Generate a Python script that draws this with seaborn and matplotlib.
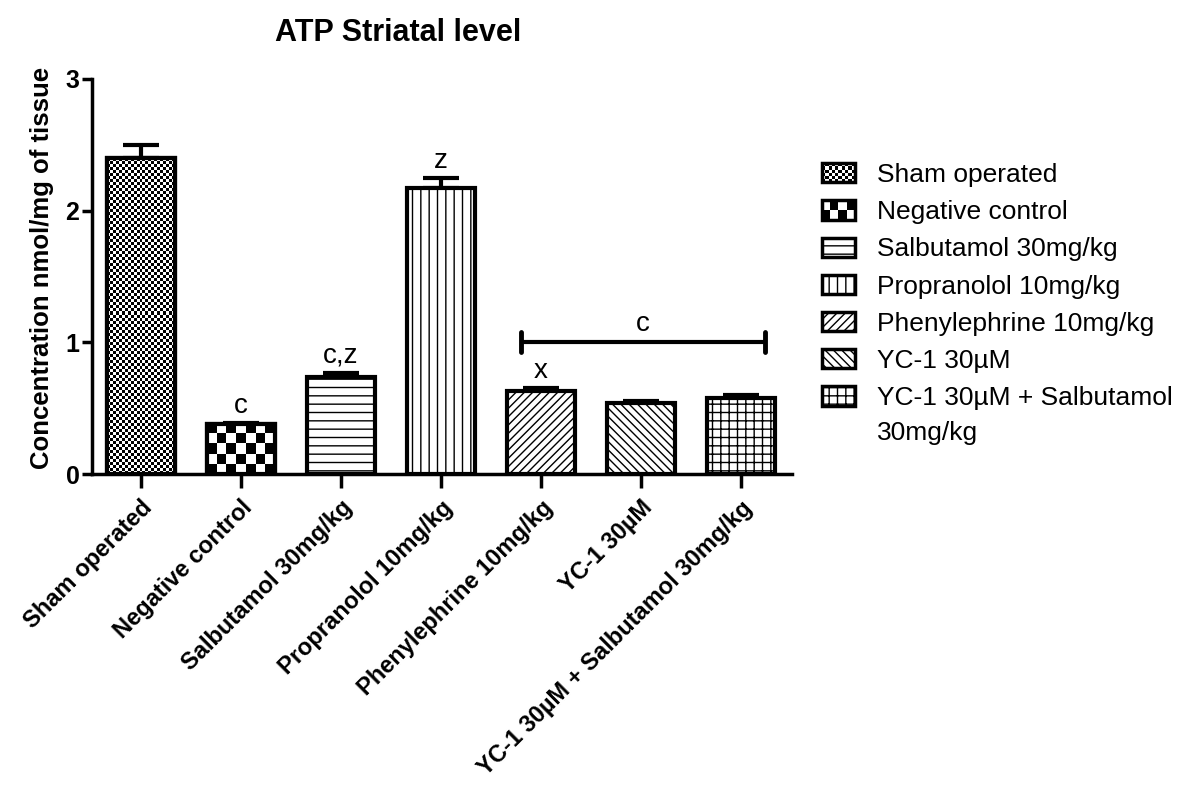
import numpy as np
import pandas as pd
import matplotlib
matplotlib.use("Agg")
import matplotlib.pyplot as plt
import seaborn as sns
from matplotlib.patches import Patch, Rectangle
from matplotlib.legend_handler import HandlerBase

# ---------------- data ----------------
groups = ["Sham operated", "Negative control", "Salbutamol 30mg/kg",
          "Propranolol 10mg/kg", "Phenylephrine 10mg/kg", "YC-1 30µM",
          "YC-1 30µM + Salbutamol 30mg/kg"]
legend_labels = ["Sham operated", "Negative control", "Salbutamol 30mg/kg",
                 "Propranolol 10mg/kg", "Phenylephrine 10mg/kg", "YC-1 30µM",
                 "YC-1 30µM + Salbutamol"]
legend_extra_line = "30mg/kg"
means = [2.40, 0.38, 0.74, 2.17, 0.63, 0.54, 0.58]
sems = [0.10, 0.01, 0.03, 0.08, 0.025, 0.015, 0.02]
letters = ["", "c", "c,z", "z", "x", "", ""]
bracket_groups = [4, 6]
bracket_label = "c"
bracket_y = 1.0
y_ticks = [0, 1, 2, 3]

# fill styles (None -> checkerboard with given cell size in px)
hatches = [None, None, "--", "||", "////", "\\\\\\\\", "++"]
checker_cells = {0: 3.0, 1: 10.0}

# ---------------- style ----------------
sns.set_style("white")
plt.rcParams["font.family"] = ["Liberation Sans", "DejaVu Sans"]
plt.rcParams["hatch.linewidth"] = 1.0
for k in ("text.color", "axes.labelcolor", "xtick.color", "ytick.color",
          "axes.edgecolor"):
    plt.rcParams[k] = "black"

fig = plt.figure(figsize=(11.77, 7.85), dpi=100)
ax = fig.add_axes([92 / 1177, 1 - 474 / 785, 700 / 1177, 395 / 785])

df = pd.DataFrame({"group": groups, "value": means})
sns.barplot(data=df, x="group", y="value", order=groups, color="white",
            saturation=1, edgecolor="black", linewidth=3, width=0.68,
            errorbar=None, ax=ax, zorder=2)

xlim = (-0.49, len(groups) - 0.49)
ylim = (0, 3)
ax.set_xlim(*xlim)
ax.set_ylim(*ylim)

bars = list(ax.patches)
for i, (p, h) in enumerate(zip(bars, hatches)):
    if h is not None:
        p.set_hatch(h)

# checkerboard fills
fig.canvas.draw()
for i, cell in checker_cells.items():
    p = bars[i]
    bb = p.get_window_extent()
    nx = max(1, int(round(bb.width / cell)))
    ny = max(1, int(round(bb.height / cell)))
    arr = (np.add.outer(np.arange(ny), np.arange(nx)) % 2).astype(float)
    x0 = p.get_x()
    w = p.get_width()
    hgt = p.get_height()
    im = ax.imshow(arr, extent=(x0, x0 + w, 0, hgt), cmap="gray", vmin=0, vmax=1,
                   interpolation="nearest", aspect="auto", zorder=2.2, origin="lower")
    im.set_clip_path(p)
    ax.add_patch(Rectangle((x0, 0), w, hgt, fill=False, edgecolor="black",
                           linewidth=3, zorder=2.5))
ax.set_xlim(*xlim)
ax.set_ylim(*ylim)

# error bars (upper only)
xpos = np.arange(len(groups))
ax.errorbar(xpos, means, yerr=[np.zeros(len(sems)), sems], fmt="none",
            ecolor="black", elinewidth=3, capsize=13, capthick=3, zorder=1.5)

# significance letters
for i, (m, s, lab) in enumerate(zip(means, sems, letters)):
    if lab:
        ax.text(i, m + s + 0.13, lab, ha="center", va="center", fontsize=20)

# bracket
bx0 = bracket_groups[0] - 0.2
bx1 = bracket_groups[1] + 0.24
ax.plot([bx0, bx1], [bracket_y, bracket_y], color="black", lw=3, zorder=3,
        solid_capstyle="butt")
for bx in (bx0, bx1):
    ax.plot([bx, bx], [bracket_y - 0.075, bracket_y + 0.075], color="black",
            lw=3.5, zorder=3, solid_capstyle="round")
ax.text((bx0 + bx1) / 2, bracket_y + 0.14, bracket_label, ha="center",
        va="center", fontsize=20)

# axes styling
sns.despine(ax=ax)
for sp in ("left", "bottom"):
    ax.spines[sp].set_linewidth(2.5)
    ax.spines[sp].set_color("black")
ax.set_yticks(y_ticks)
ax.set_yticklabels([str(t) for t in y_ticks], fontsize=18, fontweight="bold")
ax.tick_params(axis="y", length=7, width=2.5, pad=2, direction="out", left=True)
ax.tick_params(axis="x", length=10, width=2.5, pad=6, direction="out", bottom=True)
ax.set_xticks(xpos)
ax.set_xticklabels(groups, rotation=45, ha="right", va="top",
                   rotation_mode="anchor", fontsize=17, fontweight="bold")
ax.set_xlabel("")
ax.set_ylabel("")

fig.text(398 / 1177, 1 - 33 / 785, "ATP Striatal level", ha="center",
         va="center", fontsize=22, fontweight="bold")
fig.text(42 / 1177, 1 - 268 / 785, "Concentration nmol/mg of tissue",
         rotation=90, ha="center", va="center", fontsize=18.5, fontweight="bold")


# legend
class CheckerHandler(HandlerBase):
    def __init__(self, nx, ny):
        super().__init__()
        self.nx, self.ny = nx, ny

    def create_artists(self, legend, orig_handle, xdescent, ydescent, width,
                       height, fontsize, trans):
        arts = []
        cw, ch = width / self.nx, height / self.ny
        for a in range(self.nx):
            for b in range(self.ny):
                if (a + b) % 2 == 0:
                    arts.append(Rectangle((-xdescent + a * cw, -ydescent + b * ch),
                                          cw, ch, facecolor="black",
                                          edgecolor="none", transform=trans))
        arts.append(Rectangle((-xdescent, -ydescent), width, height,
                              facecolor="none", edgecolor="black", lw=2.5,
                              transform=trans))
        return arts


handles = []
handler_map = {}
for i, lab in enumerate(legend_labels):
    if hatches[i] is None:
        hd = Patch(facecolor="white", edgecolor="black", label=lab)
        n = 10 if i == 0 else 4
        handler_map[hd] = CheckerHandler(n, max(2, int(n * 0.6)))
    else:
        hd = Patch(facecolor="white", edgecolor="black", hatch=hatches[i],
                   lw=2.5, label=lab)
    handles.append(hd)

leg = fig.legend(handles=handles, labels=legend_labels, handler_map=handler_map,
                 loc="upper left", bbox_to_anchor=(822 / 1177, 1 - 163 / 785),
                 frameon=False, fontsize=19, handlelength=1.25,
                 handleheight=0.75, handletextpad=0.85, labelspacing=0.5,
                 borderpad=0, borderaxespad=0)

# second line of the last legend entry
fig.canvas.draw()
last = leg.get_texts()[-1]
bb = last.get_window_extent()
fig.text(bb.x0 / fig.bbox.width, (bb.y0 - 35 + bb.height / 2) / fig.bbox.height,
         legend_extra_line, ha="left", va="center", fontsize=19)

fig.savefig("out.png", dpi=100)
